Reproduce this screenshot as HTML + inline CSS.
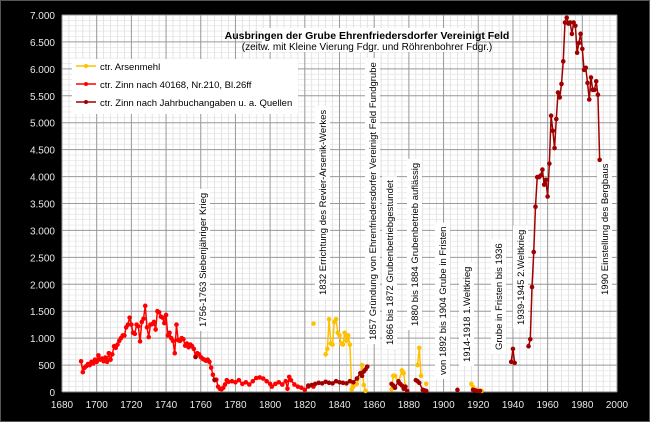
<!DOCTYPE html>
<html><head><meta charset="utf-8">
<style>
html,body{margin:0;padding:0;background:#000;}
svg{display:block;font-family:"Liberation Sans",sans-serif;}
</style></head>
<body>
<svg id="s" width="650" height="422" xmlns="http://www.w3.org/2000/svg">
<rect x="0" y="0" width="650" height="422" fill="#000"/>
<rect x="0.5" y="0.5" width="649" height="421" fill="none" stroke="#555"/>
<rect x="62" y="15" width="555" height="377" fill="#fff"/>
<g id="grid"></g>
<g id="ticks" fill="#e8e8e8" font-size="10"></g>
<g id="ann" font-size="9.5" fill="#000"></g>
<g id="series"></g>
<rect x="262" y="28" width="214" height="24" fill="#fff"/>
<text x="367" y="39" text-anchor="middle" font-size="10.5" font-weight="bold" fill="#000">Ausbringen der Grube Ehrenfriedersdorfer Vereinigt Feld</text>
<text x="367" y="50" text-anchor="middle" font-size="10" fill="#000">(zeitw. mit Kleine Vierung Fdgr. und Röhrenbohrer Fdgr.)</text>
<rect x="72" y="59" width="226" height="55" fill="#fff"/>
<g font-size="9.5" fill="#000">
<line x1="76" y1="66" x2="96" y2="66" stroke="#ffc000" stroke-width="1.5"/><circle cx="86" cy="66" r="2" fill="#ffc000"/>
<text x="100" y="70">ctr. Arsenmehl</text>
<line x1="76" y1="84" x2="96" y2="84" stroke="#ff0000" stroke-width="1.5"/><circle cx="86" cy="84" r="2" fill="#ff0000"/>
<text x="100" y="88">ctr. Zinn nach 40168, Nr.210, Bl.26ff</text>
<line x1="76" y1="102" x2="96" y2="102" stroke="#a00000" stroke-width="1.5"/><circle cx="86" cy="102" r="2" fill="#a00000"/>
<text x="100" y="106">ctr. Zinn nach Jahrbuchangaben u. a. Quellen</text>
</g>
</svg>
<script>
const NS="http://www.w3.org/2000/svg";
const X=y=>62+(y-1680)*555/320, Y=v=>392-v*377/7000;
function el(t,a,p){const e=document.createElementNS(NS,t);for(const k in a)e.setAttribute(k,a[k]);p.appendChild(e);return e;}
const g=document.getElementById('grid'),tk=document.getElementById('ticks');
for(let yr=1680;yr<=2000;yr+=4){el('line',{x1:X(yr),x2:X(yr),y1:15,y2:392,stroke:'#d8d8d8','stroke-width':0.7},g);}
for(let v=0;v<=7000;v+=100){el('line',{x1:62,x2:617,y1:Y(v),y2:Y(v),stroke:'#e4e4e4','stroke-width':0.7},g);}
for(let yr=1680;yr<=2000;yr+=20){el('line',{x1:X(yr),x2:X(yr),y1:15,y2:392,stroke:'#9a9a9a','stroke-width':1},g);
 const t=el('text',{x:X(yr),y:408,'text-anchor':'middle'},tk);t.textContent=yr;}
for(let v=0;v<=7000;v+=500){el('line',{x1:62,x2:617,y1:Y(v),y2:Y(v),stroke:'#9a9a9a','stroke-width':1},g);
 const t=el('text',{x:55,y:Y(v)+4,'text-anchor':'end'},tk);t.textContent=v.toLocaleString('de-DE').replace(',', '.');}
el('line',{x1:62,x2:617,y1:392,y2:392,stroke:'#777','stroke-width':1},g);
// annotations: [x, bottomY, text]
const ann=[[203,327,"1756-1763 Siebenjähriger Krieg"],[323,295,"1832 Errichtung des Revier-Arsenik-Werkes"],[373,340,"1857 Gründung von Ehrenfriedersdorfer Vereinigt Feld Fundgrube"],[390,345,"1866 bis 1872 Grubenbetriebgestundet"],[415,326,"1880 bis 1884 Grubenbetrieb auflässig"],[443,375,"von 1892 bis 1904 Grube in Fristen"],[467,362,"1914-1918 1.Weltkrieg"],[499,350,"Grube in Fristen bis 1936"],[521,325,"1939-1945 2.Weltkrieg"],[605,295,"1990 Einstellung des Bergbaus"]];
const ag=document.getElementById('ann');
ann.forEach(([x,b,s])=>{const grp=el('g',{transform:`translate(${x+3},${b}) rotate(-90)`},ag);
 const r=el('rect',{x:-4,y:-11,height:15,fill:'#fff'},grp);const t=el('text',{x:0,y:0},grp);t.textContent=s;
 r.setAttribute('width',t.getComputedTextLength()+8);});
const red=[[1691,570],[1692,370],[1693,450],[1694,480],[1695,520],[1696,500],[1697,560],[1698,530],[1699,600],[1700,560],[1701,680],[1702,600],[1703,620],[1704,570],[1705,640],[1706,560],[1707,720],[1708,600],[1709,700],[1710,850],[1711,820],[1712,880],[1713,950],[1714,1000],[1715,1050],[1716,1050],[1717,1200],[1718,1250],[1719,1380],[1720,1250],[1721,1100],[1722,1080],[1723,1250],[1724,1220],[1725,940],[1726,1300],[1727,1360],[1728,1600],[1729,1200],[1730,1020],[1731,1250],[1732,1260],[1733,1300],[1734,1160],[1735,1500],[1736,1480],[1737,1400],[1738,1380],[1739,1280],[1740,1430],[1741,1050],[1742,1100],[1743,1000],[1744,950],[1745,720],[1746,1250],[1747,960],[1748,950],[1749,1000],[1750,980],[1751,860],[1752,900],[1753,830],[1754,880],[1755,850],[1756,800],[1757,660],[1758,720],[1759,700],[1760,650],[1761,620],[1762,600],[1763,580],[1764,600],[1765,560],[1766,450],[1767,320],[1768,230],[1769,230],[1770,100],[1771,60],[1772,50],[1773,80],[1774,140],[1775,220],[1776,190],[1778,200],[1780,180],[1782,220],[1784,150],[1786,180],[1788,140],[1790,200],[1792,260],[1794,270],[1796,250],[1798,200],[1800,150],[1801,100],[1803,150],[1805,180],[1807,140],[1809,200],[1810,60],[1811,280],[1812,220],[1814,140],[1816,100],[1818,80],[1820,40],[1822,100],[1825,100]];
const yel=[[[1825,1270]],[[1832,700],[1833,800],[1834,1350],[1835,900],[1836,880],[1837,1300],[1838,1350],[1839,1100],[1840,1050],[1841,900],[1842,880],[1843,1100],[1844,950],[1845,1050],[1846,880],[1847,50],[1848,100],[1850,150],[1852,300],[1853,500],[1854,130],[1855,20]],[[1870,50],[1871,300],[1872,300],[1874,180],[1876,400],[1877,350],[1878,100]],[[1885,500],[1886,820],[1887,300]],[[1890,150]],[[1916,150],[1917,90],[1919,40],[1920,30],[1922,20]]];
const dr=[[[1757,650]],[[1768,220]],[[1822,120],[1824,130],[1826,150],[1828,170],[1830,160],[1832,190],[1834,170],[1836,160],[1838,200],[1840,180],[1842,170],[1844,160],[1846,200],[1848,180],[1850,250],[1852,350],[1853,300],[1854,380],[1855,420],[1856,470]],[[1870,150],[1871,120],[1872,80],[1874,200],[1875,150],[1876,120],[1877,60],[1878,100],[1879,20]],[[1884,220],[1885,200],[1886,170],[1888,40],[1889,30],[1890,20]],[[1908,40]],[[1917,40],[1918,30],[1919,20],[1921,20]],[[1939,560],[1940,800],[1941,540]],[[1949,850],[1950,980],[1951,1950],[1952,2600],[1953,3440],[1954,3990],[1955,3990],[1956,4020],[1957,4130],[1958,3850],[1959,3940],[1960,3630],[1961,4240],[1962,5130],[1963,4850],[1964,4530],[1965,5070],[1966,5560],[1967,5470],[1968,5720],[1969,6140],[1970,6860],[1971,6950],[1972,6840],[1973,6860],[1974,6650],[1975,6860],[1976,6800],[1977,6300],[1978,6480],[1979,6650],[1980,6370],[1981,5980],[1982,6020],[1983,5740],[1984,5430],[1985,5840],[1986,5610],[1987,5610],[1988,5770],[1989,5520],[1990,4310]]];
const sg=document.getElementById('series');
function draw(segs,c){segs.forEach(s=>{if(s.length>1)el('polyline',{points:s.map(p=>X(p[0])+','+Y(p[1])).join(' '),fill:'none',stroke:c,'stroke-width':1.5},sg);
 s.forEach(p=>el('circle',{cx:X(p[0]),cy:Y(p[1]),r:2.3,fill:c},sg));});}
draw([red],'#ff0000');draw(yel,'#ffc000');draw(dr,'#a00000');
</script>
</body></html>
